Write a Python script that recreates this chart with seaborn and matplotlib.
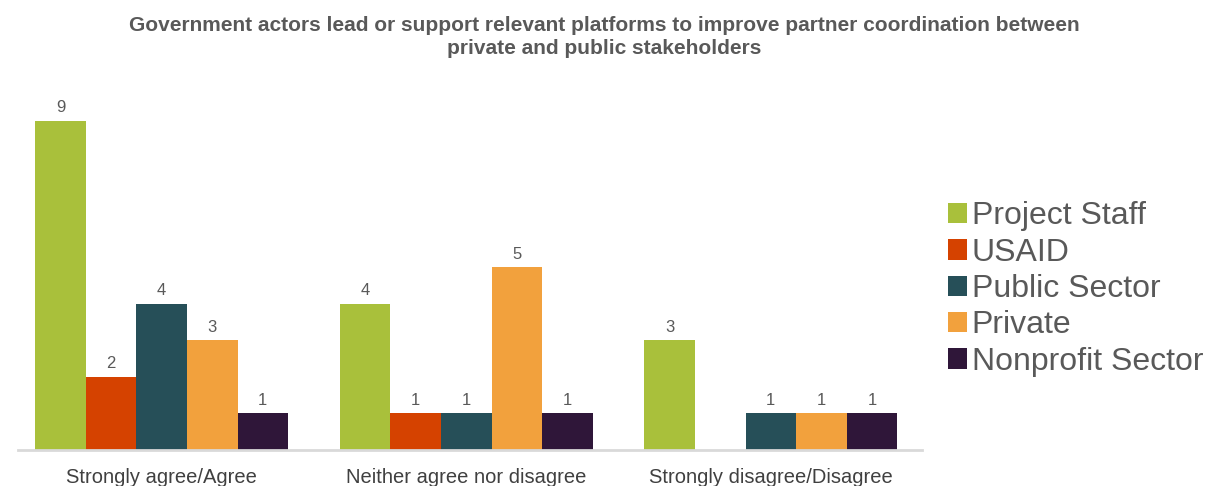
import matplotlib
matplotlib.use("Agg")
import matplotlib.pyplot as plt
import seaborn as sns
import pandas as pd

categories = ["Strongly agree/Agree", "Neither agree nor disagree", "Strongly disagree/Disagree"]
groups = ["Project Staff", "USAID", "Public Sector", "Private", "Nonprofit Sector"]
project_staff = [9, 4, 3]
usaid = [2, 1, 0]
public_sector = [4, 1, 1]
private = [3, 5, 1]
nonprofit = [1, 1, 1]
title = ("Government actors lead or support relevant platforms to improve partner coordination between\n"
         "private and public stakeholders")

palette = ["#a9c03b", "#d54200", "#264f58", "#f2a13d", "#2f1639"]

rows = []
for g, vals in zip(groups, [project_staff, usaid, public_sector, private, nonprofit]):
    for c, v in zip(categories, vals):
        rows.append({"category": c, "group": g, "value": v})
df = pd.DataFrame(rows)

sns.set_theme(style="white")
plt.rcParams["font.family"] = ["Liberation Sans", "DejaVu Sans"]

fig = plt.figure(figsize=(12.08, 4.86), dpi=100)
ax = fig.add_axes([0.0149, 0.074, 0.748, 0.753])

sns.barplot(data=df, x="category", y="value", hue="group", order=categories,
            hue_order=groups, palette=palette, width=0.83, saturation=1,
            edgecolor="none", linewidth=0, ax=ax)

for container in ax.containers:
    labels = [f"{int(b.get_height())}" if b.get_height() > 0 else "" for b in container]
    ax.bar_label(container, labels=labels, padding=4, fontsize=12, color="#595959")

ax.set_xlim(-0.472, 2.495)
ax.set_ylim(0, 10)
ax.set_xlabel("")
ax.set_ylabel("")
ax.set_yticks([])
for s in ["top", "right", "left"]:
    ax.spines[s].set_visible(False)
ax.spines["bottom"].set_color("#d9d9d9")
ax.spines["bottom"].set_linewidth(2)
ax.tick_params(axis="x", length=0, pad=13, labelsize=14.5, labelcolor="#404040")

leg = ax.legend(loc="center left", bbox_to_anchor=(1.029, 0.44), frameon=False,
                fontsize=23, handlelength=0.6, handleheight=0.6, handletextpad=0.15,
                labelspacing=0.2, borderaxespad=0, borderpad=0)
for t in leg.get_texts():
    t.set_color("#595959")

fig.text(0.5, 0.968, title, ha="center", va="top", fontsize=15,
         fontweight="bold", color="#595959", linespacing=1.3)

fig.savefig("out.png", dpi=100)
